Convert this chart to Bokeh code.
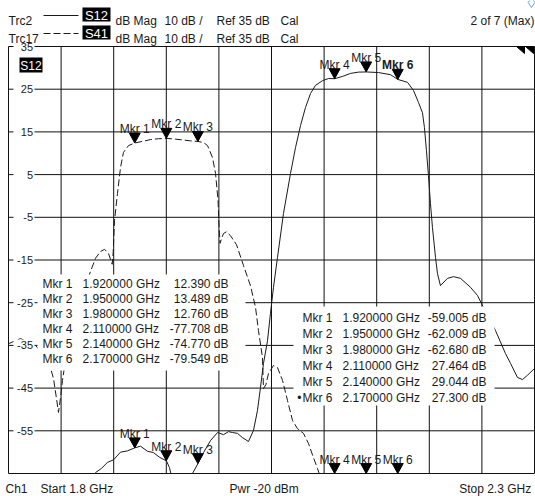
from bokeh.plotting import figure
from bokeh.models import Range1d
from bokeh.core.properties import value
from bokeh.embed import file_html
from bokeh.resources import INLINE

# ---------------- data ----------------
x_ticks = [1.80, 1.85, 1.90, 1.95, 2.00, 2.05, 2.10, 2.15, 2.20, 2.25, 2.30]
y_ticks = [35, 25, 15, 5, -5, -15, -25, -35, -45, -55, -65]
y_tick_labels = ["35", "25", "15", "5", "-5", "-15", "-25", "-35", "-45", "-55"]

# Trc2  S12 (solid)
s12_freq = [1.800, 1.820, 1.840, 1.860, 1.875, 1.8827, 1.8884, 1.8941, 1.8998, 1.9065,
            1.9131, 1.920, 1.9255, 1.9321, 1.9378, 1.9435, 1.950, 1.953, 1.955, 1.960,
            1.968, 1.9749, 1.980, 1.9854, 1.992, 1.9987, 2.0044, 2.0091, 2.0129, 2.0177,
            2.0224, 2.0281, 2.0329, 2.0367, 2.0395, 2.0424, 2.0462, 2.0490, 2.0519, 2.0557,
            2.0614, 2.0681, 2.0728, 2.0776, 2.0823, 2.0871, 2.0918, 2.0985, 2.1042, 2.110,
            2.1176, 2.1251, 2.1327, 2.140, 2.1517, 2.1631, 2.170, 2.1793, 2.185, 2.1897,
            2.1935, 2.1954, 2.1973, 2.1992, 2.2011, 2.2030, 2.2059, 2.2078, 2.2106, 2.2173,
            2.2230, 2.2297, 2.2392, 2.2458, 2.2515, 2.2629, 2.2724, 2.2772, 2.2838, 2.2886,
            2.2933, 2.300]
s12_db = [-74, -78, -80, -76, -70, -64.8, -63.8, -62.4, -61.8, -60.0,
          -59.7, -59.0, -58.6, -59.8, -60.1, -61.2, -62.0, -63.6, -65.7, -69,
          -69, -65.0, -62.7, -60.1, -57.3, -55.4, -55.9, -55.2, -55.4, -55.6,
          -56.6, -57.5, -54.9, -50.2, -44.9, -39.2, -33.9, -27.5, -21.4, -14.4,
          -4.1, 5.3, 11.3, 16.5, 20.7, 24.0, 25.9, 27.0, 27.5, 27.46,
          28.0, 28.7, 29.0, 29.04, 28.9, 28.4, 27.3, 26.6, 24.7, 21.9,
          19.5, 16.0, 10.6, 4.8, -1.8, -7.4, -14.4, -18.2, -21.0, -19.3,
          -18.9, -19.3, -21.4, -23.3, -26.1, -31.5, -36.9, -39.2, -42.5, -43.0,
          -42.0, -40.4]

# Trc17  S41 (dashed)
s41_freq = [1.800, 1.8114, 1.8257, 1.838, 1.8428, 1.8456, 1.8475, 1.8494, 1.8513, 1.8542,
            1.8637, 1.8732, 1.8779, 1.8827, 1.8875, 1.8913, 1.8951, 1.8986, 1.8995, 1.9008,
            1.9036, 1.9065, 1.9093, 1.9141, 1.920, 1.935, 1.9426, 1.950, 1.9587, 1.9664,
            1.973, 1.980, 1.9854, 1.9892, 1.9939, 1.9968, 1.9992, 2.0001, 2.0011, 2.0025,
            2.0044, 2.0071, 2.0110, 2.0167, 2.0234, 2.0300, 2.0348, 2.0376, 2.0414, 2.0424,
            2.0447, 2.0471, 2.0519, 2.0557, 2.0605, 2.0652, 2.0700, 2.0747, 2.0804, 2.0852,
            2.0899, 2.0937, 2.0975, 2.1059, 2.110, 2.140, 2.170, 2.200, 2.250, 2.300]
s41_db = [-34.6, -33.4, -35.0, -38.5, -42.8, -47.4, -50.7, -47.4, -43.2, -38.5,
          -29.2, -21.0, -17.7, -14.6, -13.0, -12.5, -13.5, -16.0, -13.2, -5.7,
          0.6, 6.7, 10.2, 11.8, 12.39, 13.2, 13.4, 13.489, 13.3, 13.1,
          12.9, 12.76, 12.5, 11.8, 9.0, 5.3, -1.1, -6.9, -11.1, -10.0,
          -8.8, -8.4, -9.3, -11.4, -16.3, -21.0, -26.1, -31.5, -37.8, -45.1,
          -44.2, -41.6, -39.7, -40.2, -43.2, -47.9, -52.6, -54.5, -55.6, -58.0,
          -61.3, -63.8, -66.6, -72, -77.708, -74.770, -79.549, -82, -80, -83]

mkr_names = ["Mkr 1", "Mkr 2", "Mkr 3", "Mkr 4", "Mkr 5", "Mkr 6"]
mkr_freq = [1.92, 1.95, 1.98, 2.11, 2.14, 2.17]
s41_mkr = [12.390, 13.489, 12.760, -77.708, -74.770, -79.549]
s12_mkr = [-59.005, -62.009, -62.680, 27.464, 29.044, 27.300]

# ---------------- layout ----------------
F0, F1 = 1.8, 2.3
DB_BOT, DB_TOP = -65, 35
W, H = 535, 496
GRID_L, GRID_T, GRID_W, GRID_H = 8, 46, 526, 427   # graticule box in page pixels
PX_X = GRID_W / (F1 - F0)
PX_Y = GRID_H / (DB_TOP - DB_BOT)


def fx(px):
    return F0 + (px - GRID_L) / PX_X


def fy(py):
    return DB_TOP - (py - GRID_T) / PX_Y


FONT = value("Liberation Sans")
INK = "#1a1a1a"

p = figure(width=W, height=H, x_range=Range1d(fx(0), fx(W)), y_range=Range1d(fy(H), fy(0)),
           output_backend="svg", toolbar_location=None, title=None,
           x_axis_location=None, y_axis_location=None,
           min_border_left=0, min_border_right=0, min_border_top=0, min_border_bottom=0,
           background_fill_color="white", border_fill_color="white")
p.outline_line_color = None
p.grid.visible = False

# graticule
p.segment(x0=x_ticks, y0=DB_BOT, x1=x_ticks, y1=DB_TOP, line_color="#111111", line_width=1)
p.segment(x0=F0, y0=y_ticks, x1=F1, y1=y_ticks, line_color="#111111", line_width=1)

# traces
p.line(s41_freq, s41_db, line_color=INK, line_width=1, line_dash="7 3")
p.line(s12_freq, s12_db, line_color=INK, line_width=1)

# markers
TW, TH = 5.5, 10


def tri(freqs, vals):
    xs, ys = [], []
    for f, v in zip(freqs, vals):
        v = max(v, DB_BOT)
        xs.append([f - TW / PX_X, f + TW / PX_X, f])
        ys.append([v + TH / PX_Y, v + TH / PX_Y, v])
    return xs, ys


xs, ys = tri(mkr_freq, s41_mkr)
p.patches(xs, ys, fill_color="black", line_color="black")
xs, ys = tri(mkr_freq, s12_mkr)
p.patches(xs, ys, fill_color="black", line_color="black")

clip41 = [max(v, DB_BOT) for v in s41_mkr]
clip12 = [max(v, DB_BOT) for v in s12_mkr]
common = dict(text_align="center", text_baseline="alphabetic", y_offset=-14,
              text_font=FONT, text_font_size="12px", text_color=INK)
p.text(x=mkr_freq, y=clip41, text=mkr_names, **common)
p.text(x=mkr_freq[:5], y=clip12[:5], text=mkr_names[:5], **common)
p.text(x=mkr_freq[5:], y=clip12[5:], text=mkr_names[5:], text_font_style="bold", **common)

# top-right off-screen marker wedges
p.patches([[fx(516), fx(524), fx(524)], [fx(525), fx(533), fx(533)]],
          [[fy(46), fy(46), fy(53)], [fy(46), fy(46), fy(53)]],
          fill_color="black", line_color="black")

# marker tables
p.quad(left=[fx(37), fx(293)], right=[fx(245), fx(494)],
       top=[fy(274), fy(306)], bottom=[fy(370), fy(405)],
       fill_color="white", line_color=None)

tcommon = dict(text_baseline="middle", text_font=FONT, text_font_size="12px", text_color=INK)
rows_l = [fy(283 + 15 * i) for i in range(6)]
rows_r = [fy(317 + 16 * i) for i in range(6)]
freq_txt = [f"{f:.6f} GHz" for f in mkr_freq]
p.text(x=[fx(42)] * 6, y=rows_l, text=mkr_names, text_align="left", **tcommon)
p.text(x=[fx(82)] * 6, y=rows_l, text=freq_txt, text_align="left", **tcommon)
p.text(x=[fx(228)] * 6, y=rows_l, text=[f"{v:.3f} dB" for v in s41_mkr], text_align="right", **tcommon)
p.text(x=[fx(302)] * 6, y=rows_r, text=mkr_names, text_align="left", **tcommon)
p.text(x=[fx(342)] * 6, y=rows_r, text=freq_txt, text_align="left", **tcommon)
p.text(x=[fx(486)] * 6, y=rows_r, text=[f"{v:.3f} dB" for v in s12_mkr], text_align="right", **tcommon)
p.text(x=[fx(301)], y=rows_r[5:], text=["\u2022"], text_align="right", **tcommon)

# masks outside the graticule (clip traces / labels like the analyser screen)
p.quad(left=[fx(0), fx(0), fx(0), fx(534.5)], right=[fx(W), fx(W), fx(7.5), fx(W)],
       top=[fy(0), fy(473.5), fy(45.5), fy(45.5)], bottom=[fy(45.5), fy(H), fy(473.5), fy(473.5)],
       fill_color="white", line_color=None)

# y tick labels
p.rect(x=fx(23.5), y=y_ticks[:-1], width=21, height=12, width_units="screen",
       height_units="screen", fill_color="white", line_color=None)
p.text(x=[fx(32.5)] * len(y_tick_labels), y=y_ticks[:-1], text=y_tick_labels,
       text_align="right", text_baseline="middle", text_font=FONT, text_font_size="11px",
       text_color=INK)

# badge inside graticule
p.quad(left=fx(19), right=fx(42), top=fy(57), bottom=fy(72), fill_color="black", line_color=None)
p.text(x=[fx(30.5)], y=[fy(65)], text=["S12"], text_align="center", text_baseline="middle",
       text_font=FONT, text_font_size="12px", text_color="white")


def label(px, py, text, align="left", baseline="alphabetic", size="12px", color=INK, bold=False):
    p.text(x=[fx(px)], y=[fy(py)], text=[text], text_align=align, text_baseline=baseline,
           text_font=FONT, text_font_size=size, text_color=color,
           text_font_style="bold" if bold else "normal")


# header
for py_base, py_top, py_line, trc, sp, dash in [(20, 7, 15, "Trc2", "S12", "solid"),
                                                (38, 25, 33, "Trc17", "S41", "7 3")]:
    label(8, py_base, trc)
    p.line([fx(43), fx(78)], [fy(py_line), fy(py_line)], line_color=INK, line_width=1,
           line_dash=dash)
    p.quad(left=fx(82), right=fx(110), top=fy(py_top), bottom=fy(py_top + 14),
           fill_color="black", line_color=None)
    label(96, py_top + 7.5, sp, align="center", baseline="middle", size="13px", color="white")
    label(115, py_base, "dB Mag")
    label(164, py_base, "10 dB /")
    label(216, py_base, "Ref 35 dB")
    label(280, py_base, "Cal")
label(534, 20, "2 of 7 (Max)", align="right")
p.scatter(x=[fx(531)], y=[fy(2)], marker="diamond", size=10, fill_color=None,
          line_color="#6f9fd8", line_width=1)

# footer
label(5, 488, "Ch1")
label(40, 488, "Start  1.8 GHz")
label(229, 488, "Pwr  -20 dBm")
label(534, 488, "Stop  2.3 GHz", align="right")

open("out.html", "w").write(file_html(p, INLINE))
